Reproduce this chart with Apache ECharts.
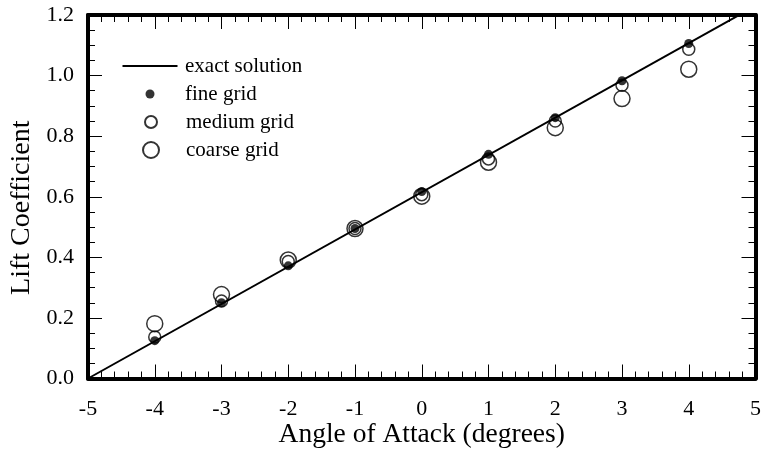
<!DOCTYPE html>
<html>
<head>
<meta charset="utf-8">
<script src="https://cdn.jsdelivr.net/npm/echarts@6/dist/echarts.min.js"></script>
<style>
  html, body { margin: 0; padding: 0; background: #fff; }
  #chart { width: 761px; height: 453px; }
</style>
</head>
<body>
<div id="chart"></div>
<script>
// Angle of attack (degrees) at which each grid was solved
const angles = [-4, -3, -2, -1, 0, 1, 2, 3, 4];

// Lift coefficient per grid resolution
const fineGrid   = [0.125, 0.250, 0.372, 0.495, 0.617, 0.740, 0.861, 0.983, 1.106];
const mediumGrid = [0.137, 0.256, 0.386, 0.495, 0.607, 0.725, 0.850, 0.968, 1.087];
const coarseGrid = [0.181, 0.277, 0.391, 0.495, 0.602, 0.714, 0.828, 0.924, 1.021];

// Exact (linear) solution endpoints
const exactAngles = [-5, 5];
const exactLift   = [0, 1.23];

const FONT = '"Liberation Serif", "Times New Roman", serif';

const pairs = (xs, ys) => xs.map((x, i) => [x, ys[i]]);

const tickCommon = {
  axisLine: { show: true, onZero: false, lineStyle: { color: '#000', width: 4 } },
  axisTick: { show: true, inside: true, length: 14, lineStyle: { color: '#000', width: 1 } },
  minorTick: { show: true, length: 7, lineStyle: { color: '#000', width: 1 } },
  splitLine: { show: false }
};

const xBase = Object.assign({
  type: 'value', min: -5, max: 5, interval: 1
}, JSON.parse(JSON.stringify(tickCommon)));
xBase.minorTick.splitNumber = 5;

const yBase = Object.assign({
  type: 'value', min: 0, max: 1.2, interval: 0.2
}, JSON.parse(JSON.stringify(tickCommon)));
yBase.minorTick.splitNumber = 4;

// Legend rows: icon centred on a common column, text starting at a common x
const LEGEND_ICON_CX = 150;
const LEGEND_TEXT_X = 185;
const legendRow = (name, cy, w, h, icon) => {
  const left = LEGEND_ICON_CX - w / 2;
  const textPad = LEGEND_TEXT_X - (left + w + 5);
  return {
    data: [{ name: name, icon: icon }],
    left: left,
    top: cy - 12,
    orient: 'vertical',
    padding: 0,
    itemWidth: w,
    itemHeight: h,
    selectedMode: false,
    textStyle: {
      fontFamily: FONT, fontSize: 21, color: '#000',
      lineHeight: 24, padding: [0, 0, 0, textPad]
    }
  };
};

const chart = echarts.init(document.getElementById('chart'), null, { renderer: 'canvas' });

chart.setOption({
  animation: false,
  backgroundColor: '#fff',
  grid: {
    left: 88, right: 5.5, top: 15, bottom: 74.5,
    containLabel: false, outerBoundsMode: 'none'
  },
  xAxis: [
    Object.assign({}, xBase, {
      position: 'bottom',
      name: 'Angle of Attack (degrees)',
      nameLocation: 'middle',
      nameGap: 42,
      nameMoveOverlap: false,
      nameTextStyle: { fontFamily: FONT, fontSize: 27.5, color: '#000' },
      axisLabel: { fontFamily: FONT, fontSize: 22, color: '#000', margin: 20 }
    }),
    Object.assign({}, xBase, {
      position: 'top',
      axisLabel: { show: false }
    })
  ],
  yAxis: [
    Object.assign({}, yBase, {
      position: 'left',
      name: 'Lift Coefficient',
      nameLocation: 'middle',
      nameGap: 52,
      nameMoveOverlap: false,
      nameTextStyle: {
        fontFamily: FONT, fontSize: 28, color: '#000',
        padding: [0, 22, 0, 0]
      },
      axisLabel: {
        fontFamily: FONT, fontSize: 22, color: '#000', margin: 14,
        formatter: v => v.toFixed(1)
      }
    }),
    Object.assign({}, yBase, {
      position: 'right',
      axisLabel: { show: false }
    })
  ],
  legend: [
    legendRow('exact solution', 66, 55, 2, 'rect'),
    legendRow('fine grid', 94, 9, 9, 'circle'),
    legendRow('medium grid', 122, 12, 12, 'circle'),
    legendRow('coarse grid', 150, 16, 16, 'circle')
  ],
  series: [
    {
      name: 'exact solution',
      type: 'line',
      data: pairs(exactAngles, exactLift),
      symbol: 'none',
      lineStyle: { color: '#000', width: 2 },
      itemStyle: { color: '#000' },
      clip: true,
      z: 2
    },
    {
      name: 'coarse grid',
      type: 'scatter',
      data: pairs(angles, coarseGrid),
      symbol: 'circle',
      symbolSize: 16,
      itemStyle: { color: 'rgba(0,0,0,0)', borderColor: '#000', borderWidth: 1.5 },
      z: 3
    },
    {
      name: 'medium grid',
      type: 'scatter',
      data: pairs(angles, mediumGrid),
      symbol: 'circle',
      symbolSize: 12,
      itemStyle: { color: 'rgba(0,0,0,0)', borderColor: '#000', borderWidth: 1.5 },
      z: 4
    },
    {
      name: 'fine grid',
      type: 'scatter',
      data: pairs(angles, fineGrid),
      symbol: 'circle',
      symbolSize: 9,
      itemStyle: { color: '#000' },
      z: 5
    }
  ]
});
</script>
</body>
</html>
